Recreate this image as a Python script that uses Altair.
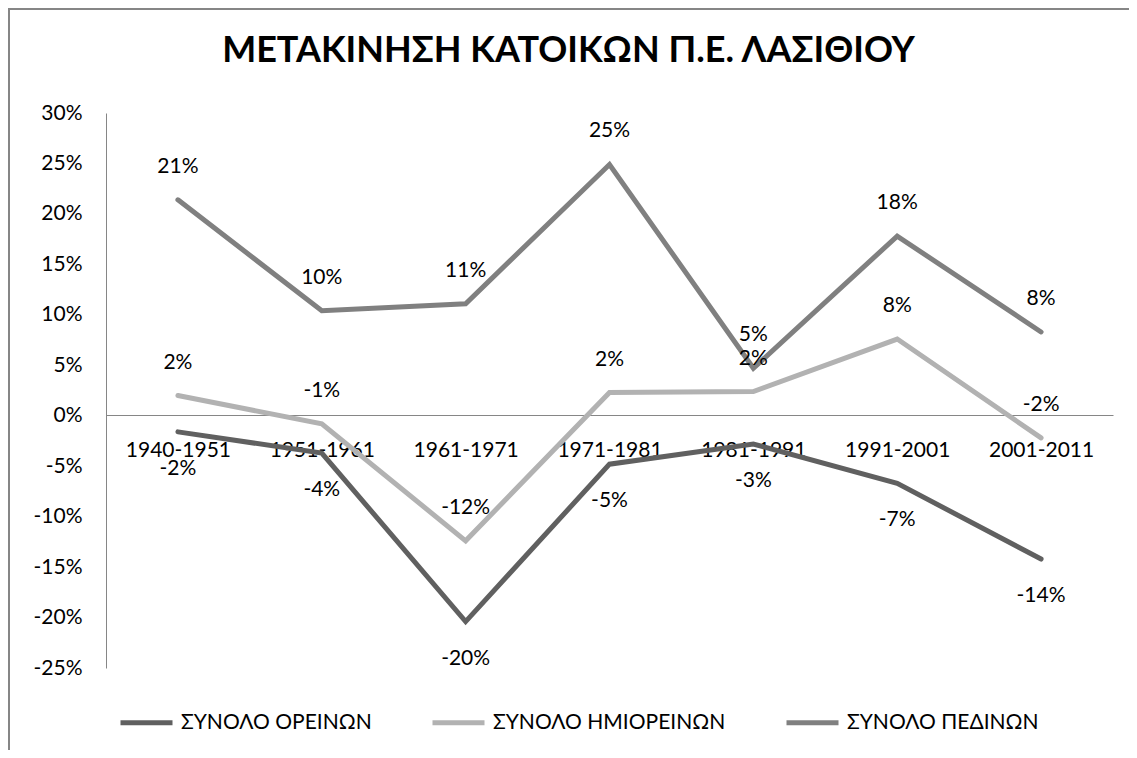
import altair as alt
import pandas as pd

categories = ["1940-1951", "1951-1961", "1961-1971", "1971-1981", "1981-1991", "1991-2001", "2001-2011"]
series_names = ["ΣΥΝΟΛΟ ΟΡΕΙΝΩΝ", "ΣΥΝΟΛΟ ΗΜΙΟΡΕΙΝΩΝ", "ΣΥΝΟΛΟ ΠΕΔΙΝΩΝ"]
oreinon = [-0.016, -0.037, -0.204, -0.048, -0.028, -0.067, -0.142]
imioreinon = [0.020, -0.008, -0.124, 0.023, 0.024, 0.076, -0.022]
pedinon = [0.214, 0.104, 0.111, 0.249, 0.047, 0.178, 0.083]
y_ticks = [-0.25, -0.20, -0.15, -0.10, -0.05, 0.0, 0.05, 0.10, 0.15, 0.20, 0.25, 0.30]
colors = ["#606060", "#b2b2b2", "#808080"]
title_text = "ΜΕΤΑΚΙΝΗΣΗ ΚΑΤΟΙΚΩΝ Π.Ε. ΛΑΣΙΘΙΟΥ"

rows = []
for name, vals in zip(series_names, [oreinon, imioreinon, pedinon]):
    for c, v in zip(categories, vals):
        rows.append({"cat": c, "series": name, "value": v})
df = pd.DataFrame(rows)

FONT = "Lato, Open Sans, sans-serif"
W, H = 1007, 555
pct_expr = "replace(format(datum.value, '.0%'), '\u2212', '-')"

x_enc = alt.X("cat:N", sort=categories, title=None,
              axis=alt.Axis(labelAngle=0, ticks=False, domainColor="#868686", domainWidth=1,
                            offset=-(H - 302), labelPadding=24, labelFont=FONT,
                            labelFontSize=21, labelColor="#000000", labelOverlap=False))
y_enc = alt.Y("value:Q", title=None,
              scale=alt.Scale(domain=[-0.25, 0.30], nice=False, zero=False),
              axis=alt.Axis(values=y_ticks, labelExpr=pct_expr, grid=False, ticks=False,
                            domainColor="#868686", domainWidth=1, labelPadding=24,
                            labelFont=FONT, labelFontSize=21, labelColor="#000000"))

base = alt.Chart(df).transform_calculate(lbl=pct_expr)

lines = base.mark_line(strokeWidth=5, strokeCap="round", strokeJoin="miter").encode(
    x=x_enc, y=y_enc,
    color=alt.Color("series:N", sort=series_names,
                    scale=alt.Scale(domain=series_names, range=colors),
                    legend=alt.Legend(orient="none", legendX=12, legendY=581, direction="horizontal",
                                      title=None, symbolType="stroke", symbolSize=2704,
                                      symbolStrokeWidth=5, labelFont=FONT, labelFontSize=21,
                                      labelColor="#000000", labelOffset=6, columnPadding=50,
                                      labelLimit=500)),
)

above = base.transform_filter(alt.datum.series != series_names[0]).mark_text(
    dy=-33, font=FONT, fontSize=21, color="#000000", baseline="middle", align="center"
).encode(x=alt.X("cat:N", sort=categories), y="value:Q", text="lbl:N")

below = base.transform_filter(alt.datum.series == series_names[0]).mark_text(
    dy=37, font=FONT, fontSize=21, color="#000000", baseline="middle", align="center"
).encode(x=alt.X("cat:N", sort=categories), y="value:Q", text="lbl:N")

one = pd.DataFrame({"t": [title_text]})
title = alt.Chart(one).mark_text(font=FONT, fontSize=36, fontWeight="bold", color="#000000",
                                 align="center", baseline="middle").encode(
    x=alt.value(W / 2 - 41), y=alt.value(-62), text="t:N")

border = alt.Chart(one).mark_rect(fillOpacity=0, stroke="#868686", strokeWidth=2).encode(
    x=alt.value(-97), y=alt.value(-104), x2=alt.value(1300), y2=alt.value(1000))

chart = alt.layer(border, lines, above, below, title).properties(
    width=W, height=H,
    autosize=alt.AutoSizeParams(type="none"),
    padding={"left": 98, "top": 105, "right": 16, "bottom": 82},
    background="#ffffff",
).configure_view(stroke=None)

chart.save("out.html", embed_options={"renderer": "svg", "actions": False})
